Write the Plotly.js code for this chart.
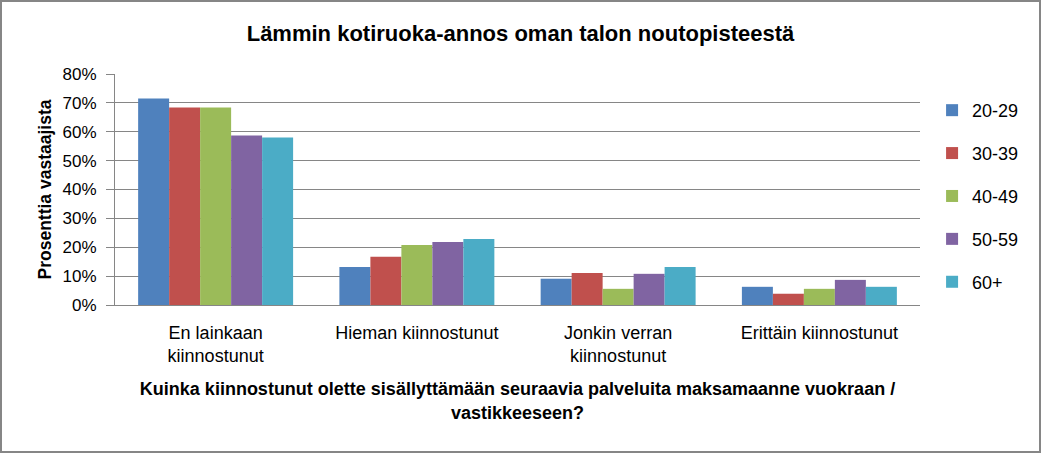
<!DOCTYPE html>
<html>
<head>
<meta charset="utf-8">
<script src="https://cdn.plot.ly/plotly-3.0.1.min.js"></script>
<style>
html,body{margin:0;padding:0;background:#fff;}
#chart{width:1041px;height:453px;box-sizing:border-box;border:2px solid #868686;}
</style>
</head>
<body>
<div id="chart"></div>
<script>
const categories = ["En lainkaan<br>kiinnostunut", "Hieman kiinnostunut", "Jonkin verran<br>kiinnostunut", "Erittäin kiinnostunut"];
const seriesNames = ["20-29", "30-39", "40-49", "50-59", "60+"];
const colors = ["#4F81BD", "#C0504D", "#9BBB59", "#8064A2", "#4BACC6"];
const v2029 = [0.715, 0.132, 0.091, 0.063];
const v3039 = [0.684, 0.167, 0.111, 0.039];
const v4049 = [0.684, 0.208, 0.056, 0.056];
const v5059 = [0.587, 0.218, 0.108, 0.087];
const v60 = [0.580, 0.229, 0.132, 0.063];
const seriesValues = [v2029, v3039, v4049, v5059, v60];
const yTicks = [0, 0.1, 0.2, 0.3, 0.4, 0.5, 0.6, 0.7, 0.8];

const font = "Liberation Sans, Arial, sans-serif";
const traces = seriesNames.map((n, i) => ({
  type: "bar",
  name: n,
  x: categories,
  y: seriesValues[i],
  marker: {color: colors[i], line: {width: 0}},
  legendgroup: "g" + i,
  hoverinfo: "none"
}));

const layout = {
  width: 1037, height: 449,
  margin: {l: 113, r: 119, t: 72, b: 146, pad: 0},
  paper_bgcolor: "#fff",
  plot_bgcolor: "#fff",
  barmode: "group",
  bargap: 0.23,
  bargroupgap: 0,
  font: {family: font, color: "#000", size: 17},
  title: {text: "<b>Lämmin kotiruoka-annos oman talon noutopisteestä</b>", x: 0.5, xref: "container", y: 0.93, yref: "container", yanchor: "middle", font: {size: 22, family: font, color: "#000"}},
  xaxis: {
    showgrid: false, showline: true, linecolor: "#868686", linewidth: 1,
    ticks: "", tickfont: {size: 18}, ticklabelstandoff: 11,
    title: {text: "<b>Kuinka kiinnostunut olette sisällyttämään seuraavia palveluita maksamaanne vuokraan /<br>vastikkeeseen?</b>", font: {size: 18}, standoff: 17}
  },
  yaxis: {
    range: [0, 0.8], tickvals: yTicks, tickformat: ".0%",
    showgrid: true, gridcolor: "#868686", gridwidth: 1,
    showline: true, linecolor: "#868686", linewidth: 1,
    ticks: "outside", ticklen: 8, tickcolor: "#868686",
    zeroline: false, tickfont: {size: 17}, ticklabelstandoff: 6,
    title: {text: "<b>Prosenttia vastaajista</b>", font: {size: 17.5}, standoff: 6}
  },
  legend: {x: 1.015, xanchor: "left", y: 0.472, yanchor: "middle", font: {size: 18}, tracegroupgap: 16.5, itemclick: false},
  showlegend: true
};
Plotly.newPlot("chart", traces, layout, {displayModeBar: false, staticPlot: true});
</script>
</body>
</html>
